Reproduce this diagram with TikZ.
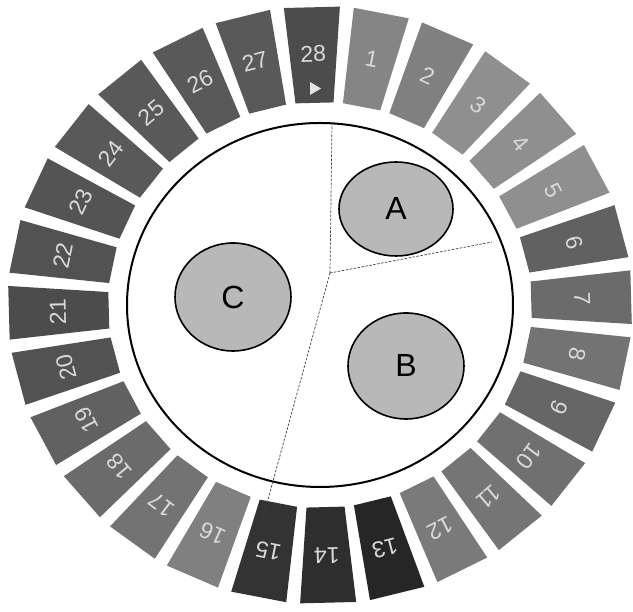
\documentclass[tikz,border=0pt]{standalone}
\usepackage{fontspec}
\setmainfont{Liberation Sans}
\usetikzlibrary{shapes.geometric}
\begin{document}
\begin{tikzpicture}[x=1pt,y=1pt,
  segnum/.style={text=white!85!black, font=\fontsize{23}{25}\selectfont, inner sep=0pt},
  zone/.style={ellipse, draw=black, line width=1.6pt, fill=black!28, font=\fontsize{32}{36}\selectfont, inner sep=0pt},
  divider/.style={draw=black!75, line width=0.7pt, dash pattern=on 2.5pt off 1.5pt},
  rim/.style={draw=black, line width=2pt}]
\useasboundingbox (0,0) rectangle (633,612);
\fill[white] (0,0) rectangle (633,612);
\begin{scope}[shift={(320,307)}, xscale=1.045, rotate=1.5]
  \foreach \n/\d in {1/48,2/50,3/44,4/44,5/44,6/62,7/58,8/55,9/60,10/56,11/54,12/52,13/85,14/82,15/80,16/50,17/55,18/58,19/62,20/68,21/70,22/68,23/67,24/65,25/65,26/65,27/65,28/70}{
    \pgfmathsetmacro\a{90-\n*360/28}
    \fill[black!\d] (\a-5.15:203) -- (\a-5.15:299) -- (\a+5.15:299) -- (\a+5.15:203) -- cycle;
    \node[segnum, rotate=\a-90+1.5] (s\n) at (\a:251) {\n};
  }
\end{scope}
\fill[white!90!black] (310,530) -- (310,517) -- (321,523.5) -- cycle;
\draw[rim] (320,307) ellipse [x radius=193, y radius=182];
\coordinate (J) at (330,339);
\coordinate (T) at (332,489);
\coordinate (R) at (492,370);
\coordinate (L) at (261,87);
\draw[divider] (J) -- (T);
\draw[divider] (J) -- (R);
\draw[divider] (J) -- (L);
\node[zone, minimum width=114pt, minimum height=94pt] (A) at (396,403) {A};
\node[zone, minimum width=116pt, minimum height=106pt] (B) at (406,246) {B};
\node[zone, minimum width=116pt, minimum height=108pt] (C) at (233,315) {C};
\end{tikzpicture}
\end{document}
